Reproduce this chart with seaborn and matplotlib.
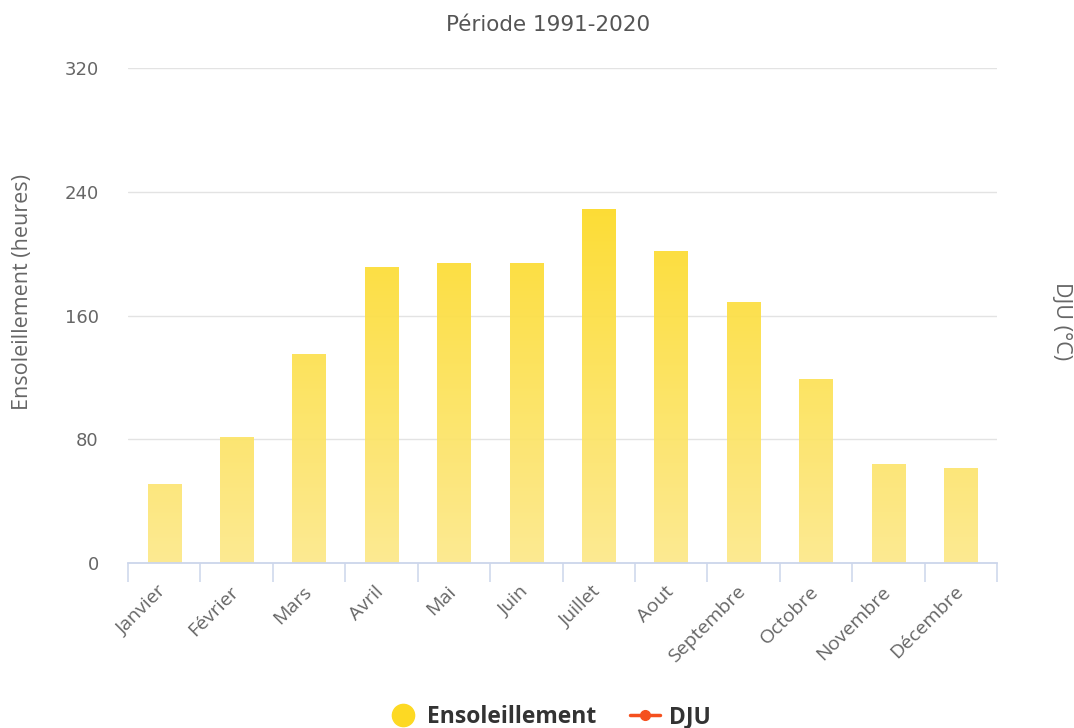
import numpy as np
import pandas as pd
import matplotlib
matplotlib.use("Agg")
import matplotlib.pyplot as plt
import seaborn as sns
from matplotlib.colors import LinearSegmentedColormap
from matplotlib.lines import Line2D
from matplotlib.ticker import FixedLocator
from matplotlib.transforms import ScaledTranslation

# Monthly sunshine, 1991-2020 normals
mois = ["Janvier", "Février", "Mars", "Avril", "Mai", "Juin", "Juillet",
        "Aout", "Septembre", "Octobre", "Novembre", "Décembre"]
ensoleillement = [51.5, 81.5, 135.5, 191.5, 194, 194, 229, 202, 168.5, 119, 64, 61.5]
y_ticks = [0, 80, 160, 240, 320]

titre = "Période 1991-2020"
label_gauche = "Ensoleillement (heures)"
label_droite = "DJU (°C)"
serie_soleil = "Ensoleillement"
serie_dju = "DJU"

sns.set_theme(style="white")
plt.rcParams["font.family"] = ["Open Sans", "DejaVu Sans"]

W, H = 1074, 728
fig = plt.figure(figsize=(W / 100, H / 100), dpi=100)
ax = fig.add_axes([128 / W, 1 - 563.3 / H, (997 - 128) / W, (563.3 - 68) / H])

df = pd.DataFrame({"mois": mois, "heures": ensoleillement})
sns.barplot(data=df, x="mois", y="heures", width=0.46, color="#FDDC2C",
            ax=ax, zorder=3)

# vertical yellow gradient, clipped to each bar
cmap = LinearSegmentedColormap.from_list("soleil", ["#FCE98A", "#FDDA22"])
grad = np.linspace(0, 1, 256).reshape(-1, 1)
for p in ax.patches:
    x0, w = p.get_x(), p.get_width()
    p.set_facecolor("none")
    p.set_edgecolor("none")
    im = ax.imshow(grad, cmap=cmap, origin="lower", aspect="auto",
                   extent=(x0, x0 + w, 0, 240), vmin=0, vmax=1, zorder=3,
                   interpolation="bilinear", alpha=0.93)
    im.set_clip_path(p)
ax.set_xlim(-0.5, len(mois) - 0.5)
ax.set_ylim(0, 320)

# grid and axes styling
ax.set_yticks(y_ticks)
ax.set_yticklabels([str(v) for v in y_ticks], family="DejaVu Sans")
ax.tick_params(axis="y", length=0, pad=21, labelsize=13, labelcolor="#666666")
ax.yaxis.grid(True, color="#e3e3e3", linewidth=1.0, zorder=0)
ax.xaxis.grid(False)
for s in ["left", "right", "top"]:
    ax.spines[s].set_visible(False)
ax.spines["bottom"].set_color("#ccd6eb")
ax.spines["bottom"].set_linewidth(1.3)
ax.spines["bottom"].set_zorder(4)

ax.set_xticks(range(len(mois)))
ax.set_xticklabels(mois, rotation=45, ha="right", rotation_mode="anchor")
ax.tick_params(axis="x", which="major", length=0, pad=11, labelsize=14,
               labelcolor="#666666")
ax.xaxis.set_minor_locator(FixedLocator(np.arange(-0.5, len(mois), 1.0)))
ax.tick_params(axis="x", which="minor", bottom=True, length=13.5, width=1.1,
               color="#ccd6eb", direction="out")
for lab in ax.get_xticklabels():
    lab.set_transform(lab.get_transform() +
                      ScaledTranslation(-7 / 100, -4 / 100, fig.dpi_scale_trans))

ax.set_xlabel("")
ax.set_ylabel(label_gauche, fontsize=15.5, color="#666666")
ax.yaxis.set_label_coords(-95 / (997 - 128), (563.3 - 292) / 495.3)

# secondary axis for the degree-day series
ax2 = ax.twinx()
ax2.set_ylim(0, 1)
ax2.set_yticks([])
for s in ax2.spines.values():
    s.set_visible(False)
fig.text(1062 / W, 1 - 321 / H, label_droite, rotation=270, ha="center",
         va="center", fontsize=15.5, color="#666666")

fig.text(548 / W, 1 - 25 / H, titre, ha="center", va="center",
         family="DejaVu Sans", fontsize=15.5, color="#555555")

handles = [
    Line2D([], [], marker="o", linestyle="none", markersize=16,
           markerfacecolor="#FDD923", markeredgecolor="#FDD923"),
    Line2D([], [], marker="o", linestyle="-", linewidth=2.5, markersize=7,
           color="#F5501E"),
]
fig.legend(handles, [serie_soleil, serie_dju], loc="center",
           bbox_to_anchor=(549.5 / W, 1 - 717 / H), ncol=2, frameon=False,
           prop={"family": "Open Sans", "weight": "bold", "size": 16.5},
           labelcolor="#333333", handlelength=1.3, columnspacing=1.5,
           handletextpad=0.4, borderpad=0, borderaxespad=0)

fig.savefig("out.png", dpi=100)
